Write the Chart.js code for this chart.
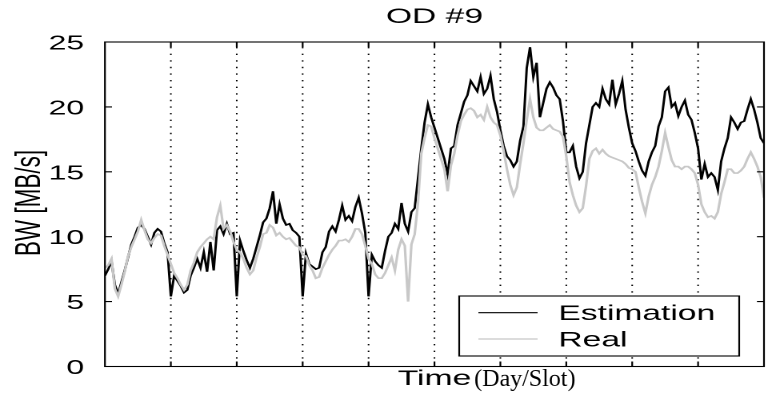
<!DOCTYPE html>
<html>
<head>
<meta charset="utf-8">
<script src="https://cdn.jsdelivr.net/npm/chart.js@4/dist/chart.umd.min.js"></script>
<style>
  html, body { margin: 0; padding: 0; background: #fff; overflow: hidden; }
  /* the figure is drawn narrow and widened horizontally, like the exported plot */
  #wrap { width: 484px; height: 404px; transform: scaleX(1.6); transform-origin: 0 0; }
</style>
</head>
<body>
<div id="wrap"><canvas id="c" width="484" height="404"></canvas></div>
<script>
// 10 days, 20 slots per day, bandwidth in MB/s
const DAYS = 10;
const SLOTS_PER_DAY = 20;

const yTicks = [0, 5, 10, 15, 20, 25];
const dayBoundaries = [20, 40, 60, 80, 100, 120, 140, 160, 180];

const estimation = [
  7.0, 7.5, 8.1, 6.3, 5.6, 6.5, 7.4, 8.4, 9.4, 10.0, 10.7, 10.9, 10.6, 10.0, 9.4, 10.3, 10.6, 10.4, 9.5, 8.8, 5.4,
  7.0, 6.6, 6.2, 5.7, 5.9, 7.0, 7.6, 8.3, 7.6, 8.8, 7.3, 9.6, 7.4, 10.5, 10.8, 10.2, 11.0, 10.2, 10.3, 5.4,
  9.7, 8.9, 8.2, 7.6, 8.3, 9.2, 10.1, 11.1, 11.4, 12.2, 13.5, 11.0, 12.5, 11.4, 10.9, 11.0, 10.5, 10.3, 10.0, 5.4,
  8.7, 7.9, 7.7, 7.5, 7.6, 8.8, 9.2, 10.4, 10.8, 10.4, 11.3, 12.4, 11.3, 11.6, 11.2, 12.3, 13.0, 11.8, 10.3, 5.4,
  8.6, 8.1, 7.8, 7.6, 8.9, 10.0, 10.3, 11.0, 10.6, 12.6, 11.0, 10.4, 11.9, 12.2, 14.5, 16.8, 18.8, 20.2, 19.2, 18.4,
  17.6, 16.8, 16.0, 14.8, 16.8, 17.0, 18.6, 19.5, 20.4, 20.9, 22.0, 21.6, 21.2, 22.3, 21.0, 21.4, 22.4, 20.6, 19.6, 18.2,
  17.0, 16.2, 15.9, 15.4, 15.8, 17.4, 18.5, 23.0, 24.6, 22.3, 23.4, 19.2, 20.3, 21.4, 21.9, 21.5, 20.9, 20.6, 18.9, 16.5,
  16.5, 17.0, 15.4, 14.5, 15.0, 17.2, 18.6, 20.0, 20.3, 20.0, 21.4, 20.6, 20.2, 22.1, 20.2, 21.0, 22.0, 19.8, 18.4, 17.2,
  16.6, 15.8, 15.1, 14.7, 15.8, 16.5, 17.0, 18.5, 19.2, 21.2, 21.5, 20.0, 20.3, 19.3, 20.0, 20.5, 19.4, 19.0, 18.0, 16.8,
  14.4, 15.6, 14.6, 14.9, 14.6, 13.6, 15.8, 16.8, 17.6, 19.2, 18.8, 18.3, 18.8, 18.9, 19.8, 20.6, 19.8, 18.8, 17.6, 17.2
];

const real = [
  7.6, 7.8, 8.3, 6.0, 5.4, 6.3, 7.3, 8.5, 9.2, 9.8, 10.4, 11.3, 10.5, 9.8, 9.5, 9.9, 10.2, 10.1, 9.3, 8.6, 7.9,
  7.2, 6.8, 6.3, 5.9, 6.3, 7.4, 8.0, 8.8, 9.2, 9.5, 9.8, 10.0, 9.8, 11.5, 12.4, 10.6, 10.9, 10.4, 9.6, 9.0,
  8.8, 8.3, 7.6, 7.1, 7.4, 8.4, 9.2, 10.2, 10.3, 10.9, 10.7, 10.1, 10.3, 10.0, 9.8, 9.9, 9.6, 9.3, 9.2, 8.6,
  8.5, 7.8, 7.4, 6.8, 6.9, 7.6, 8.1, 8.6, 9.0, 9.3, 9.7, 9.7, 9.8, 9.6, 10.0, 10.6, 10.6, 10.2, 9.3, 8.3,
  7.9, 7.1, 6.8, 6.8, 7.2, 7.8, 8.4, 7.4, 9.0, 9.8, 9.3, 5.0, 9.4, 10.2, 12.6, 16.4, 17.6, 18.6, 18.5, 17.6,
  16.8, 16.0, 15.2, 13.5, 15.5, 16.4, 17.8, 18.9, 19.4, 19.8, 19.9, 19.7, 19.2, 19.4, 19.0, 20.0, 19.2, 18.8, 18.6, 17.8,
  16.6, 15.2, 14.0, 13.2, 13.8, 15.6, 17.2, 19.0, 20.6, 19.2, 18.4, 18.2, 18.2, 18.4, 18.6, 18.3, 18.2, 18.1, 17.7, 16.2,
  14.2, 13.2, 12.4, 11.9, 12.2, 13.9, 16.0, 16.6, 16.8, 16.4, 16.7, 16.4, 16.2, 16.1, 16.0, 15.9, 15.8, 15.6, 15.3, 15.2,
  15.0, 13.8, 12.7, 11.8, 13.1, 14.0, 14.6, 15.4, 16.6, 18.0, 16.9, 15.9, 15.4, 15.4, 15.2, 15.4, 15.4, 15.2, 14.9, 14.0,
  12.5, 11.9, 11.5, 11.6, 11.4, 11.9, 13.3, 14.2, 15.2, 15.2, 14.9, 14.9, 15.1, 15.4, 16.0, 16.5, 16.0, 15.4, 14.6, 13.0
];

const SANS = '"Liberation Sans", Arial, Helvetica, sans-serif';
const SERIF = '"Liberation Serif", "Times New Roman", serif';
const STRETCH = 1.6;
const GREY = 'rgb(200,200,200)';

const toPoints = arr => arr.map((v, i) => ({ x: i, y: v }));

// frame, inward tick marks, dotted day separators, titles and legend box
const decorations = {
  id: 'decorations',
  beforeDatasetsDraw(chart) {
    const { ctx, chartArea: a, scales: { x } } = chart;
    ctx.save();
    ctx.strokeStyle = '#000';
    ctx.lineWidth = 1;
    ctx.setLineDash([1.4, 5.2]);
    dayBoundaries.forEach(v => {
      const px = x.getPixelForValue(v);
      ctx.beginPath();
      ctx.moveTo(px, a.top + 5);
      ctx.lineTo(px, a.bottom - 5);
      ctx.stroke();
    });
    ctx.restore();
  },
  afterDraw(chart) {
    const { ctx, chartArea: a, scales: { x, y } } = chart;
    ctx.save();
    ctx.strokeStyle = '#000';
    ctx.lineWidth = 1.1;
    ctx.setLineDash([]);
    // axes box
    ctx.strokeRect(a.left, a.top, a.right - a.left, a.bottom - a.top);
    ctx.beginPath();
    // inward ticks on left and right
    yTicks.forEach(v => {
      const py = y.getPixelForValue(v);
      ctx.moveTo(a.left, py); ctx.lineTo(a.left + 4.4, py);
      ctx.moveTo(a.right, py); ctx.lineTo(a.right - 4.4, py);
    });
    // inward ticks on top and bottom
    dayBoundaries.forEach(v => {
      const px = x.getPixelForValue(v);
      ctx.moveTo(px, a.top); ctx.lineTo(px, a.top + 5);
      ctx.moveTo(px, a.bottom); ctx.lineTo(px, a.bottom - 5);
    });
    ctx.stroke();

    ctx.fillStyle = '#000';
    const cx = (a.left + a.right) / 2;

    // title
    ctx.font = '21px ' + SANS;
    ctx.textAlign = 'center';
    ctx.textBaseline = 'alphabetic';
    ctx.fillText('OD #9', cx, 23);

    // x axis label
    ctx.font = '21px ' + SANS;
    ctx.fillText('Time', cx, 385);
    const timeEnd = cx + ctx.measureText('Time').width / 2;
    ctx.save();
    ctx.scale(1 / STRETCH, 1);
    ctx.font = '24px ' + SERIF;
    ctx.textAlign = 'left';
    ctx.fillText('(Day/Slot)', timeEnd * STRETCH + 3, 386);
    ctx.restore();

    // y axis label
    ctx.save();
    ctx.translate(18.8, 203);
    ctx.rotate(-Math.PI / 2);
    ctx.font = '22.5px ' + SANS;
    ctx.textAlign = 'center';
    ctx.textBaseline = 'middle';
    ctx.fillText('BW [MB/s]', 0, 0);
    ctx.restore();

    // legend
    const lx0 = 287, lx1 = 462, ly0 = 296, ly1 = 356;
    ctx.fillStyle = '#fff';
    ctx.fillRect(lx0, ly0, lx1 - lx0, ly1 - ly0);
    ctx.strokeStyle = '#000';
    ctx.lineWidth = 1.1;
    ctx.strokeRect(lx0, ly0, lx1 - lx0, ly1 - ly0);
    const items = chart.data.datasets;
    const rows = [312.7, 339];
    items.forEach((ds, k) => {
      ctx.strokeStyle = ds.borderColor;
      ctx.lineWidth = 1.2;
      ctx.beginPath();
      ctx.moveTo(299, rows[k]); ctx.lineTo(336, rows[k]);
      ctx.stroke();
      ctx.fillStyle = '#000';
      ctx.font = '21px ' + SANS;
      ctx.textAlign = 'left';
      ctx.textBaseline = 'alphabetic';
      ctx.fillText(ds.label, 349, rows[k] + 7.5);
    });
    ctx.restore();
  }
};

new Chart(document.getElementById('c'), {
  type: 'line',
  data: {
    datasets: [
      { label: 'Estimation', data: toPoints(estimation), borderColor: '#000', borderWidth: 1.5,
        pointRadius: 0, tension: 0, fill: false, order: 1 },
      { label: 'Real', data: toPoints(real), borderColor: GREY, borderWidth: 1.6,
        pointRadius: 0, tension: 0, fill: false, order: 0 }
    ]
  },
  options: {
    responsive: false,
    animation: false,
    devicePixelRatio: 2,
    events: [],
    layout: { padding: { left: 0, right: 6.5, top: 42, bottom: 37.5 } },
    plugins: { legend: { display: false }, tooltip: { enabled: false }, title: { display: false } },
    scales: {
      x: {
        type: 'linear', min: 0, max: DAYS * SLOTS_PER_DAY,
        ticks: { display: false, stepSize: SLOTS_PER_DAY },
        grid: { display: false }, border: { display: false },
        afterFit(s) { s.height = 0; }
      },
      y: {
        min: 0, max: 25,
        afterBuildTicks(s) { s.ticks = yTicks.map(v => ({ value: v })); },
        ticks: { color: '#000', font: { family: SANS, size: 20 }, padding: 5, labelOffset: 2 },
        grid: { display: false }, border: { display: false },
        afterFit(s) { s.width = 65.6; }
      }
    }
  },
  plugins: [decorations]
});
</script>
</body>
</html>
